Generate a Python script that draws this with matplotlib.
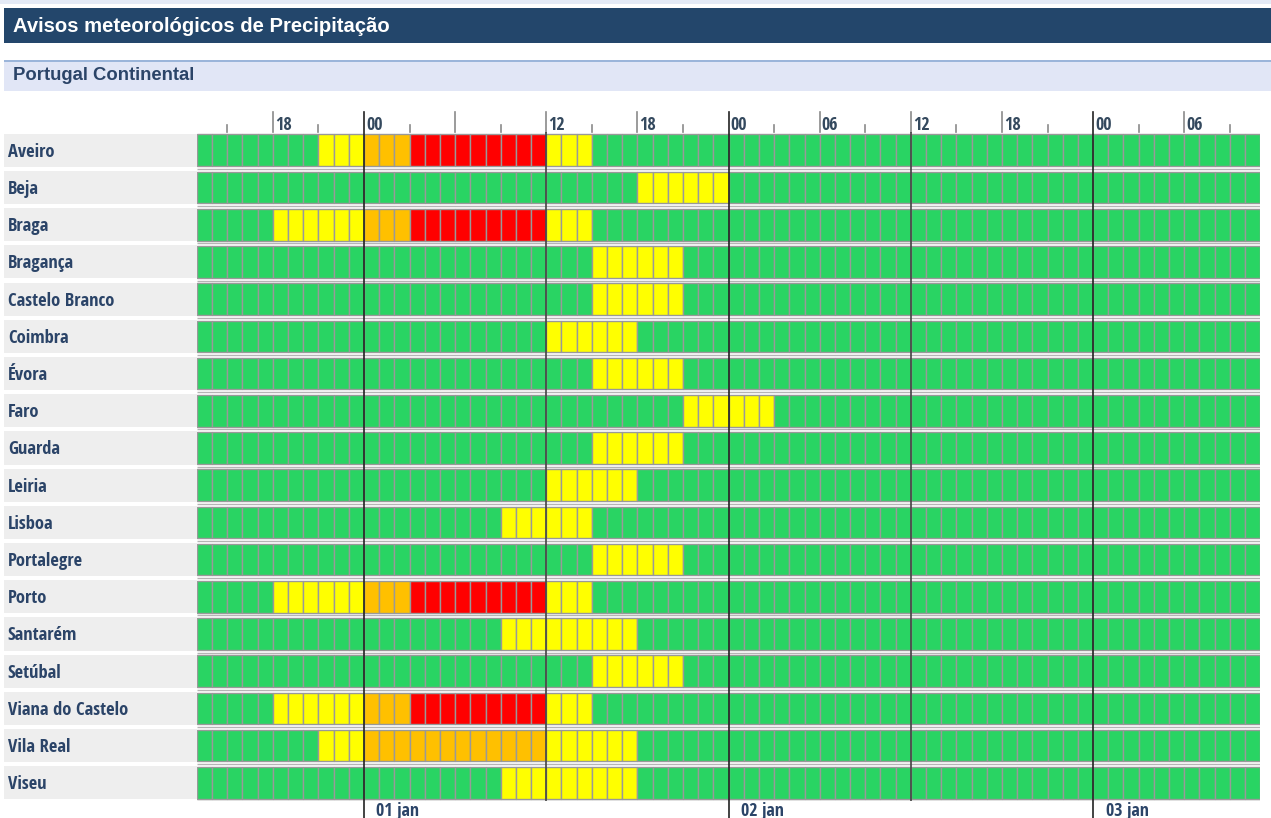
import matplotlib
matplotlib.use('Agg')
import matplotlib.pyplot as plt
from matplotlib import font_manager
from matplotlib.patches import Rectangle

# ---- data ----
regions = ['Aveiro', 'Beja', 'Braga', 'Bragança', 'Castelo Branco', 'Coimbra',
           'Évora', 'Faro', 'Guarda', 'Leiria', 'Lisboa', 'Portalegre', 'Porto',
           'Santarém', 'Setúbal', 'Viana do Castelo', 'Vila Real', 'Viseu']

# warning level per hour, first cell = 31 dez 13h
# pieces: 13h-23h (11) | 01 jan (24) | 02 jan (24) | 03 jan 00h-10h (11)
# 0 verde, 1 amarelo, 2 laranja, 3 vermelho
Z11 = '00000000000'
Z24 = '000000000000000000000000'
levels = {
    'Aveiro':           '00000000111' + '222333333333111000000000' + Z24 + Z11,
    'Beja':             Z11 + '000000000000000000111111' + Z24 + Z11,
    'Braga':            '00000111111' + '222333333333111000000000' + Z24 + Z11,
    'Bragança':         Z11 + '000000000000000111111000' + Z24 + Z11,
    'Castelo Branco':   Z11 + '000000000000000111111000' + Z24 + Z11,
    'Coimbra':          Z11 + '000000000000111111000000' + Z24 + Z11,
    'Évora':            Z11 + '000000000000000111111000' + Z24 + Z11,
    'Faro':             Z11 + '000000000000000000000111' + '111000000000000000000000' + Z11,
    'Guarda':           Z11 + '000000000000000111111000' + Z24 + Z11,
    'Leiria':           Z11 + '000000000000111111000000' + Z24 + Z11,
    'Lisboa':           Z11 + '000000000111111000000000' + Z24 + Z11,
    'Portalegre':       Z11 + '000000000000000111111000' + Z24 + Z11,
    'Porto':            '00000111111' + '222333333333111000000000' + Z24 + Z11,
    'Santarém':         Z11 + '000000000111111111000000' + Z24 + Z11,
    'Setúbal':          Z11 + '000000000000000111111000' + Z24 + Z11,
    'Viana do Castelo': '00000111111' + '222333333333111000000000' + Z24 + Z11,
    'Vila Real':        '00000000111' + '222222222222111111000000' + Z24 + Z11,
    'Viseu':            Z11 + '000000000111111111000000' + Z24 + Z11,
}
start_hour = 13
day_labels = ['01 jan', '02 jan', '03 jan']
hidden_tick_labels = [17]   # the 06h label of 01 jan is not shown

level_colors = ['#29d463', '#ffff00', '#ffc000', '#ff0000']

# condensed font for the labels
names = {f.name for f in font_manager.fontManager.ttflist}
cond = 'DejaVu Sans'
for cand in ['Open Sans Condensed', 'Fira Sans Condensed', 'Liberation Sans Narrow']:
    if cand in names:
        cond = cand
        break
cfam = [cond, 'DejaVu Sans']

W, H = 1271, 818
fig = plt.figure(figsize=(W / 100, H / 100), dpi=100)
fig.patch.set_facecolor('white')

def px_rect(x0, y0, x1, y1, **kw):
    fig.patches.append(Rectangle((x0 / W, 1 - y1 / H), (x1 - x0) / W, (y1 - y0) / H,
                                 transform=fig.transFigure, **kw))

# header bars
px_rect(0, 0, W, 4, color='#e4eaf6', lw=0)
px_rect(4, 8, W, 43, color='#23466b', lw=0)
fig.text(13 / W, 1 - 26 / H, 'Avisos meteorológicos de Precipitação', color='white',
         fontsize=14.6, fontweight='bold', family='Liberation Sans', va='center')
px_rect(4, 60, W, 91, color='#e1e6f6', lw=0)
px_rect(4, 60, W, 61.5, color='#9bb5da', lw=0)
fig.text(13 / W, 1 - 76 / H, 'Portugal Continental', color='#2b4468',
         fontsize=13.3, fontweight='bold', family='Liberation Sans', va='center')

n_hours = len(levels['Aveiro'])
nrows = len(regions)
grid_top, grid_bot = 131.7, 801.4
grid_left, grid_right = 196.9, 1260.2

ax = fig.add_axes([grid_left / W, 1 - grid_bot / H, (grid_right - grid_left) / W,
                   (grid_bot - grid_top) / H])
lab = fig.add_axes([4 / W, 1 - grid_bot / H, (grid_left - 4) / W, (grid_bot - grid_top) / H],
                   sharey=ax)
for a in (ax, lab):
    a.set_axis_off()
ax.set_xlim(0, n_hours)
ax.set_ylim(nrows - 0.5, -0.5)
lab.set_xlim(0, 1)

cell_h = 0.85
for i, reg in enumerate(regions):
    lv = [int(c) for c in levels[reg]]
    ax.barh([i] * n_hours, [1] * n_hours, left=range(n_hours), height=cell_h,
            color=[level_colors[v] for v in lv], edgecolor='#999999', linewidth=1.0)
    ax.hlines(i + cell_h / 2 + 0.075, 0, n_hours, color='#b4b4b4', lw=1)
    lab.barh(i, 1, left=0, height=0.89, color='#eeeeee', lw=0)
    lab.text(0.02, i + 0.04, reg, va='center', ha='left', fontsize=13.3,
             fontweight='bold', family=cfam, color='#2b4468')

# hour ticks
span = grid_bot - grid_top
top_ext = 20 / span
minor_ext = 7 / span
bot_ext = (H - grid_bot) / span
for k in range(n_hours):
    hh = (start_hour + k) % 24
    if hh % 3 != 0:
        continue
    if hh == 0:
        ax.axvline(k, ymin=-bot_ext, ymax=1 + top_ext, color='#222222', lw=1.2,
                   clip_on=False, zorder=5)
    elif hh == 12:
        ax.axvline(k, ymin=0, ymax=1, color='#444444', lw=1.2, zorder=5)
        ax.axvline(k, ymin=1, ymax=1 + top_ext, color='#8a8a8a', lw=1.2, clip_on=False)
    elif hh % 6 == 0:
        ax.axvline(k, ymin=1, ymax=1 + top_ext, color='#8a8a8a', lw=1.2, clip_on=False)
    else:
        ax.axvline(k, ymin=1, ymax=1 + minor_ext, color='#8a8a8a', lw=1.2, clip_on=False)
    if hh % 6 == 0 and k not in hidden_tick_labels:
        ax.annotate('%02d' % hh, (k, -0.5), xytext=(1.5, 1.2), textcoords='offset points',
                    ha='left', va='baseline', fontsize=13, fontweight='bold',
                    family=cfam, color='#34495e', annotation_clip=False)
    if hh == 0:
        d = (start_hour + k) // 24 - 1
        ax.annotate(day_labels[d], (k, nrows - 0.5), xytext=(9, -0.5), textcoords='offset points',
                    ha='left', va='top', fontsize=13, fontweight='bold',
                    family=cfam, color='#2b4468', annotation_clip=False)

fig.savefig('out.png', dpi=100)
